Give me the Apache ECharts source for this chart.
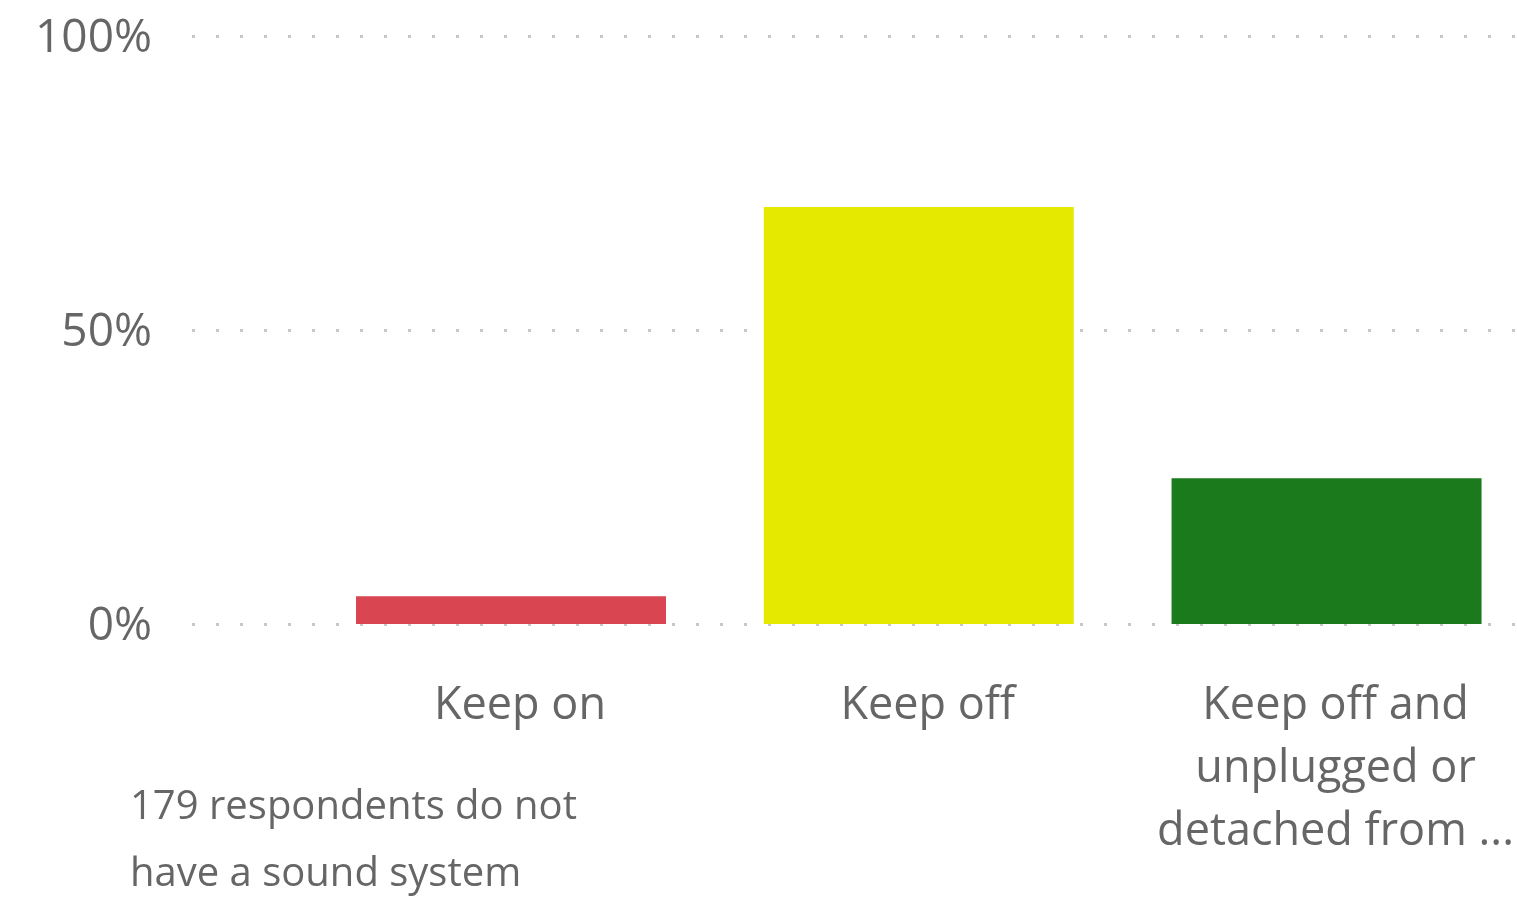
<!DOCTYPE html>
<html>
<head>
<meta charset="utf-8">
<script src="https://cdn.jsdelivr.net/npm/echarts@6/dist/echarts.min.js"></script>
<style>
html,body{margin:0;padding:0;background:#fff;}
#main{width:1517px;height:901px;}
</style>
</head>
<body>
<div id="main"></div>
<script>
var categories = ['Keep on', 'Keep off', 'Keep off and\nunplugged or\ndetached from ...'];
var values = [4.7, 70.9, 24.8];
var barColors = ['#D94550', '#E5E900', '#1B7A1B'];
var yTicks = [0, 50, 100];
var note = '179 respondents do not\nhave a sound system';

var FONT = '"Open Sans", "Noto Sans", sans-serif';
var TXT = '#666666';

var chart = echarts.init(document.getElementById('main'), null, {renderer: 'canvas'});
chart.setOption({
  animation: false,
  backgroundColor: '#ffffff',
  grid: [
    {left: 192, right: 0, top: 36, bottom: 277, containLabel: false},
    {left: 511, right: 188, top: 36, bottom: 277, containLabel: false}
  ],
  xAxis: [
    {gridIndex: 0, type: 'category', data: categories, show: false},
    {
      gridIndex: 1, type: 'category', data: categories, boundaryGap: false,
      axisLine: {show: false}, axisTick: {show: false}, splitLine: {show: false},
      axisLabel: {
        color: TXT, fontFamily: FONT, fontSize: 45, lineHeight: 63,
        margin: 51, padding: [0, 0, 0, 18], interval: 0
      }
    }
  ],
  yAxis: [
    {
      gridIndex: 0, type: 'value', min: yTicks[0], max: yTicks[yTicks.length - 1], interval: 50,
      axisLine: {show: false}, axisTick: {show: false},
      axisLabel: {
        margin: 40,
        formatter: '{a|{value}%}',
        rich: {a: {color: TXT, fontFamily: FONT, fontSize: 46, lineHeight: 46, padding: [6, 0, 0, 0]}}
      },
      splitLine: {show: true, lineStyle: {color: '#c8c8c8', width: 3, type: [3, 21], cap: 'butt'}}
    },
    {
      gridIndex: 1, type: 'value', min: 0, max: 100, interval: 50, show: false,
      splitLine: {show: false}
    }
  ],
  series: [{
    type: 'bar',
    xAxisIndex: 1, yAxisIndex: 1,
    barWidth: 310,
    clip: false,
    data: values.map(function (v, i) { return {value: v, itemStyle: {color: barColors[i]}}; }),
    z: 5
  }],
  graphic: [{
    type: 'text',
    left: 130, top: 774,
    style: {text: note, fill: TXT, font: '40px ' + FONT, lineHeight: 67}
  }]
});
</script>
</body>
</html>
